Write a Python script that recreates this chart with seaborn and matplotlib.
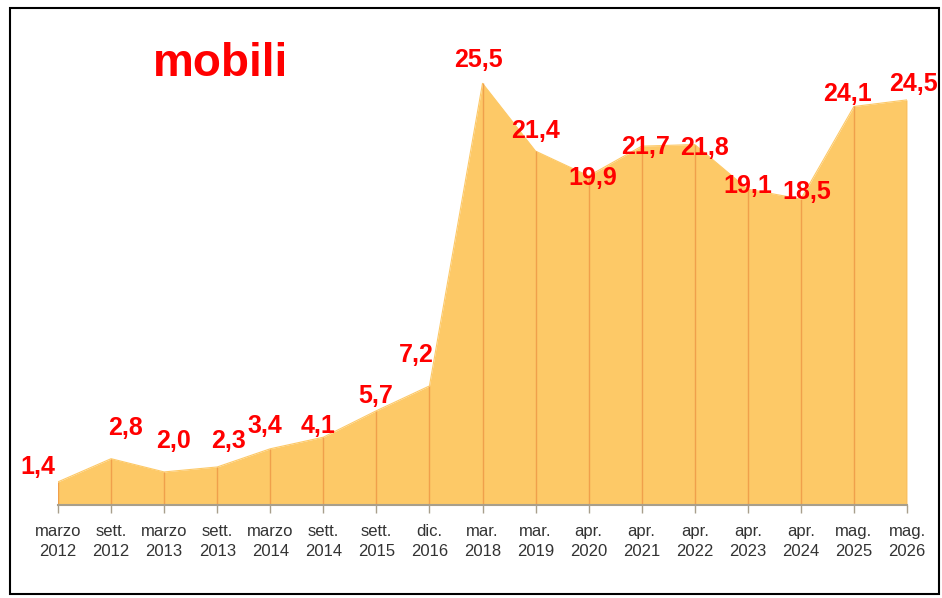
import numpy as np
import pandas as pd
import matplotlib
matplotlib.use("Agg")
import matplotlib.pyplot as plt
import seaborn as sns
from matplotlib.patches import Rectangle

# data
months = ["marzo", "sett.", "marzo", "sett.", "marzo", "sett.", "sett.", "dic.",
          "mar.", "mar.", "apr.", "apr.", "apr.", "apr.", "apr.", "mag.", "mag."]
years = ["2012", "2012", "2013", "2013", "2014", "2014", "2015", "2016",
         "2018", "2019", "2020", "2021", "2022", "2023", "2024", "2025", "2026"]
values = [1.4, 2.8, 2.0, 2.3, 3.4, 4.1, 5.7, 7.2,
          25.5, 21.4, 19.9, 21.7, 21.8, 19.1, 18.5, 24.1, 24.5]
# label offsets in pixels (dx, dy)
offsets = [(-20, 15), (14, 31), (9, 31), (11, 26), (-5, 23), (-5, 11), (-1, 15), (-13, 31),
           (-4, 23), (0, 20), (4, -2), (4, -1), (10, -3), (0, 3), (6, 7), (-6, 12), (6, 16)]

df = pd.DataFrame({"pos": np.arange(len(values)), "value": values,
                   "label": [m + "\n" + y for m, y in zip(months, years)]})

sns.set_style("white")
font = ["Liberation Sans", "DejaVu Sans"]

W, H = 942, 598
fig = plt.figure(figsize=(W / 100, H / 100), dpi=100)
ax = fig.add_axes([58 / W, (H - 505) / H, (907 - 58) / W, 463 / H])

fill_c = "#fdc967"
sns.lineplot(data=df, x="pos", y="value", color=fill_c, lw=0.8, ax=ax)
ax.fill_between(df["pos"], 0, df["value"], color=fill_c, lw=0)
ax.vlines(df["pos"], 0, df["value"], color="#f0a04b", lw=1)

ax.set_xlim(0, len(values) - 1)
ax.set_ylim(0, 28)
for s in ["top", "right", "left"]:
    ax.spines[s].set_visible(False)
ax.spines["bottom"].set_color("#a89f8c")
ax.spines["bottom"].set_linewidth(1.5)
ax.set_yticks([])
ax.set_xticks(df["pos"])
ax.set_xticklabels(df["label"], family=font, fontsize=12, color="#333333",
                   linespacing=1.4)
ax.tick_params(axis="x", length=6, width=1, color="#a89f8c", pad=8, bottom=True)
ax.set_xlabel("")
ax.set_ylabel("")

for (p, v), (dx, dy) in zip(zip(df["pos"], df["value"]), offsets):
    ax.annotate(f"{v:.1f}".replace(".", ","), (p, v), xytext=(dx * 0.72, dy * 0.72),
                textcoords="offset points", ha="center", va="center",
                family=font, fontweight="bold", fontsize=18, color="#ff0000",
                annotation_clip=False)

fig.text(220 / W, 1 - 64 / H, "mobili", ha="center", va="center",
         family=font, fontweight="bold", fontsize=33, color="#ff0000")

fig.patches.append(Rectangle((10 / W, 4 / H), 929 / W, (592 - 6) / H,
                             transform=fig.transFigure, fill=False,
                             edgecolor="black", lw=1.5))

fig.savefig("out.png", dpi=100)
